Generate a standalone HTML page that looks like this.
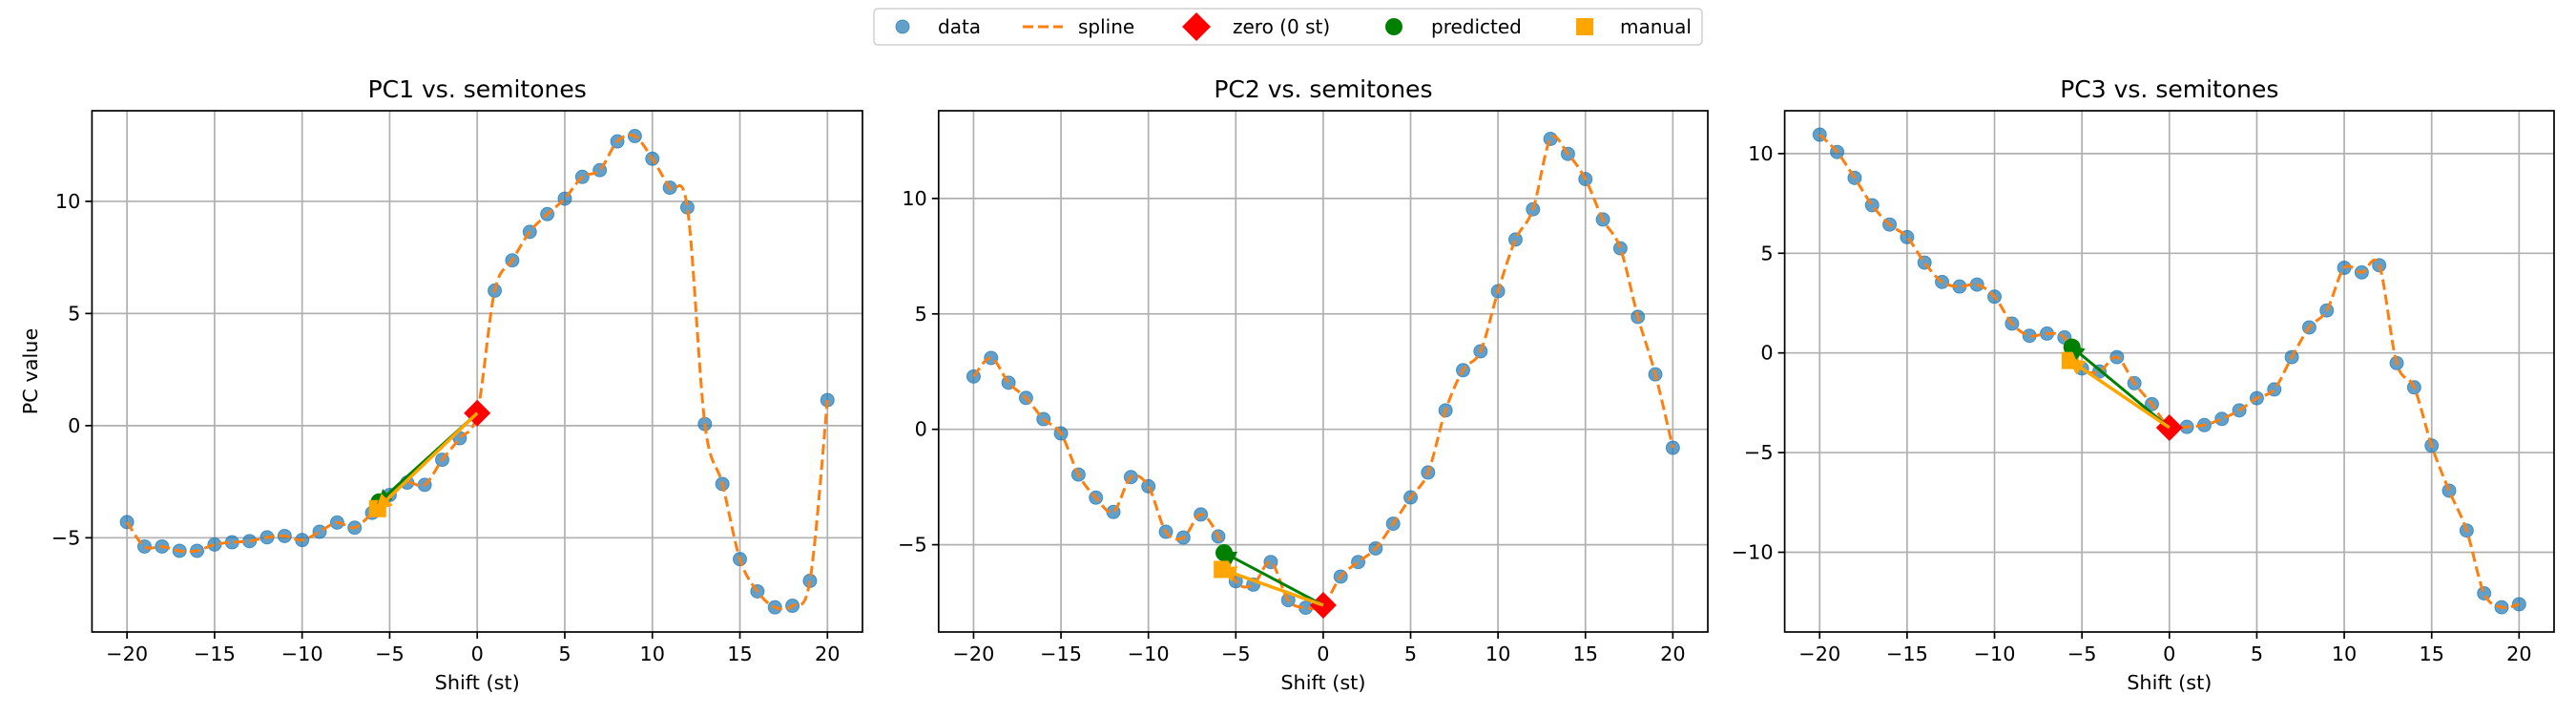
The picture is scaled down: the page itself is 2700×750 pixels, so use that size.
<!DOCTYPE html>
<html><head><meta charset="utf-8"><style>
html,body{margin:0;padding:0;background:#fff;}
svg{display:block;font-family:"DejaVu Sans","Liberation Sans",sans-serif;}
</style></head><body>
<svg id="fig" width="2700" height="750" viewBox="0 0 2700 750" xmlns="http://www.w3.org/2000/svg">
<defs>
<marker id="ahG" markerWidth="5" markerHeight="5" refX="4" refY="2.5" orient="auto" markerUnits="strokeWidth"><path d="M0,0 L5,2.5 L0,5 z" fill="#008000"/></marker>
<marker id="ahO" markerWidth="5" markerHeight="5" refX="4" refY="2.5" orient="auto" markerUnits="strokeWidth"><path d="M0,0 L5,2.5 L0,5 z" fill="#ffa500"/></marker>
</defs>
<g>
<rect x="916" y="9" width="868" height="38" rx="4" fill="#fff" stroke="#d0d0d0" stroke-width="1.5"/>
<g><circle cx="946" cy="28" r="7" fill="#1f77b4" fill-opacity="0.7" stroke="#1f77b4" stroke-opacity="0.7"/><text x="983" y="35" font-size="20">data</text></g>
<g><line x1="1072" y1="28" x2="1114" y2="28" stroke="#ff7f0e" stroke-width="3" stroke-dasharray="11 5"/><text x="1130" y="35" font-size="20">spline</text></g>
<g><path d="M1254,13 L1269,28 L1254,43 L1239,28 z" fill="#ff0000"/><text x="1292" y="35" font-size="20">zero (0 st)</text></g>
<g><circle cx="1461" cy="28" r="9" fill="#008000"/><text x="1500" y="35" font-size="20">predicted</text></g>
<g><rect x="1652" y="19" width="18" height="18" fill="#ffa500"/><text x="1698" y="35" font-size="20">manual</text></g>
</g>
</svg>
<script>
const shifts = [-20,-19,-18,-17,-16,-15,-14,-13,-12,-11,-10,-9,-8,-7,-6,-5,-4,-3,-2,-1,0,1,2,3,4,5,6,7,8,9,10,11,12,13,14,15,16,17,18,19,20];
const pc1Values = [-4.3,-5.39,-5.39,-5.58,-5.58,-5.3,-5.2,-5.15,-4.98,-4.92,-5.1,-4.73,-4.32,-4.55,-3.89,-3.09,-2.54,-2.64,-1.52,-0.56,0.56,6.02,7.37,8.64,9.43,10.12,11.09,11.39,12.67,12.91,11.9,10.61,9.73,0.07,-2.6,-5.95,-7.39,-8.1,-8.03,-6.92,1.14];
const pc2Values = [2.29,3.09,2.02,1.36,0.44,-0.18,-1.96,-2.96,-3.58,-2.07,-2.47,-4.44,-4.69,-3.69,-4.64,-6.58,-6.73,-5.75,-7.4,-7.73,-7.62,-6.38,-5.75,-5.16,-4.09,-2.95,-1.87,0.82,2.56,3.38,5.98,8.22,9.53,12.58,11.93,10.84,9.09,7.84,4.87,2.38,-0.8];
const pc3Values = [10.95,10.08,8.78,7.41,6.44,5.81,4.53,3.56,3.33,3.43,2.82,1.47,0.86,0.97,0.78,-0.78,-0.93,-0.21,-1.52,-2.57,-3.75,-3.71,-3.62,-3.31,-2.88,-2.27,-1.83,-0.21,1.28,2.13,4.27,4.04,4.4,-0.51,-1.73,-4.65,-6.91,-8.91,-12.06,-12.76,-12.61];
const predictedPoints = [[-5.6,-3.4],[-5.67,-5.35],[-5.57,0.29]];
const manualPoints = [[-5.69,-3.7],[-5.77,-6.07],[-5.67,-0.38]];
const xTicks = [-20,-15,-10,-5,0,5,10,15,20];
const yTicks1 = [-5,0,5,10];
const yTicks2 = [-5,0,5,10];
const yTicks3 = [-10,-5,0,5,10];
const titles = ["PC1 vs. semitones","PC2 vs. semitones","PC3 vs. semitones"];

const NS="http://www.w3.org/2000/svg";
const fig=document.getElementById('fig');
function mk(tag,attrs,parent){const e=document.createElementNS(NS,tag);for(const k in attrs)e.setAttribute(k,attrs[k]);(parent||fig).appendChild(e);return e;}
const panels=[
 {L:96.4,R:904,T:116,B:662,y0:-9.2,y1:14.04,vals:pc1Values,yt:yTicks1},
 {L:983.8,R:1790,T:116,B:662,y0:-8.78,y1:13.8,vals:pc2Values,yt:yTicks2},
 {L:1870.6,R:2677,T:116,B:662,y0:-14.0,y1:12.15,vals:pc3Values,yt:yTicks3}
];
const fmt=v=>(v<0?'\u2212'+(-v):''+v);
panels.forEach((p,i)=>{
 const g=mk('g',{});
 
 
 const sx=v=>p.L+(v+22)/44*(p.R-p.L);
 const sy=v=>p.B-(v-p.y0)/(p.y1-p.y0)*(p.B-p.T);
 xTicks.forEach(t=>{
  const x=sx(t);
  const gl=mk('line',{x1:x,x2:x,y1:p.T,y2:p.B,stroke:'#b0b0b0','stroke-width':1.7},g);
  
  
  mk('line',{x1:x,x2:x,y1:p.B,y2:p.B+7,stroke:'#000','stroke-width':1.7},g);
  const tl=mk('text',{x:x,y:p.B+30,'font-size':20.8,'text-anchor':'middle'},g);
  tl.textContent=fmt(t);
  
  
 });
 p.yt.forEach(t=>{
  const y=sy(t);
  const gl=mk('line',{x1:p.L,x2:p.R,y1:y,y2:y,stroke:'#b0b0b0','stroke-width':1.7},g);
  
  
  mk('line',{x1:p.L-7,x2:p.L,y1:y,y2:y,stroke:'#000','stroke-width':1.7},g);
  const tl=mk('text',{x:p.L-12,y:y+7,'font-size':20.8,'text-anchor':'end'},g);
  tl.textContent=fmt(t);
  
  
 });
 shifts.forEach((s,k)=>{
  const c=mk('circle',{cx:sx(s),cy:sy(p.vals[k]),r:7,fill:'#1f77b4','fill-opacity':0.7,stroke:'#1f77b4','stroke-opacity':0.7},g);
  
  
 });
 const pts=shifts.map((s,k)=>[sx(s),sy(p.vals[k])]);
 let d='M'+pts[0][0]+','+pts[0][1];
 for(let k=0;k<pts.length-1;k++){
  const p0=pts[Math.max(0,k-1)],p1=pts[k],p2=pts[k+1],p3=pts[Math.min(pts.length-1,k+2)];
  const c1=[p1[0]+(p2[0]-p0[0])/6,p1[1]+(p2[1]-p0[1])/6];
  const c2=[p2[0]-(p3[0]-p1[0])/6,p2[1]-(p3[1]-p1[1])/6];
  d+=' C'+c1[0]+','+c1[1]+' '+c2[0]+','+c2[1]+' '+p2[0]+','+p2[1];
 }
 const sp=mk('path',{d:d,fill:'none',stroke:'#ff7f0e','stroke-width':3,'stroke-dasharray':'11 5'},g);
 
 
 const zx=sx(0),zy=sy(p.vals[shifts.indexOf(0)]);
 const zm=mk('path',{d:`M${zx},${zy-14} L${zx+14},${zy} L${zx},${zy+14} L${zx-14},${zy} z`,fill:'#ff0000'},g);
 
 
 const pr=predictedPoints[i],mn=manualPoints[i];
 const pm=mk('circle',{cx:sx(pr[0]),cy:sy(pr[1]),r:9,fill:'#008000'},g);
 
 
 const mm=mk('rect',{x:sx(mn[0])-9,y:sy(mn[1])-9,width:18,height:18,fill:'#ffa500'},g);
 
 
 const ag=mk('line',{x1:zx,y1:zy,x2:sx(pr[0]),y2:sy(pr[1]),stroke:'#008000','stroke-width':3,'marker-end':'url(#ahG)'},g);
 
 
 const ao=mk('line',{x1:zx,y1:zy,x2:sx(mn[0]),y2:sy(mn[1]),stroke:'#ffa500','stroke-width':3.5,'marker-end':'url(#ahO)'},g);
 
 
 const fr=mk('rect',{x:p.L,y:p.T,width:p.R-p.L,height:p.B-p.T,fill:'none',stroke:'#000','stroke-width':1.7},g);
 
 
 const tt=mk('text',{x:(p.L+p.R)/2,y:p.T-14,'font-size':25,'text-anchor':'middle'},g);
 tt.textContent=titles[i];
 
 
 const xl=mk('text',{x:(p.L+p.R)/2,y:p.B+60,'font-size':20.8,'text-anchor':'middle'},g);
 xl.textContent='Shift (st)';
 
 
 if(i===0){
  const yl=mk('text',{x:0,y:0,'font-size':20.8,'text-anchor':'middle',transform:`translate(39,${(p.T+p.B)/2}) rotate(-90)`},g);
  yl.textContent='PC value';
  
  
 }
});
</script>
</body></html>
